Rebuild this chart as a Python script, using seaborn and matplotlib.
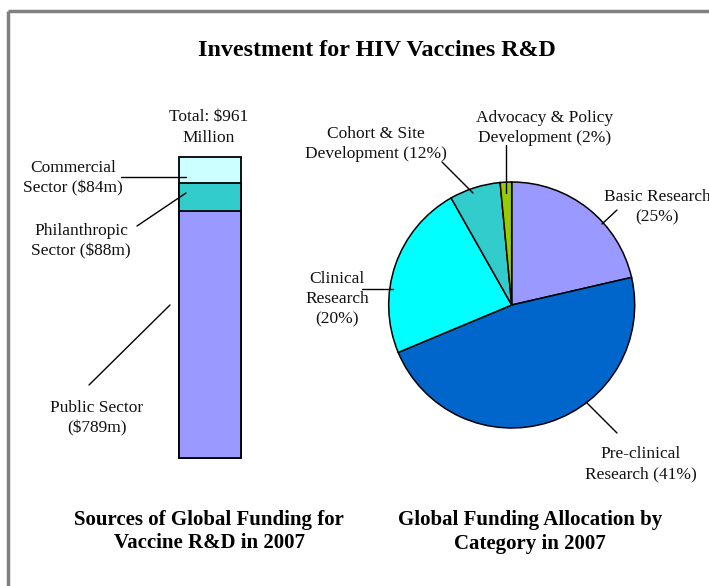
import numpy as np
import pandas as pd
import matplotlib
matplotlib.use("Agg")
import matplotlib.pyplot as plt
import seaborn as sns

# Sources de financement (barre empilée), en millions de $
sectors = ["Public Sector", "Philanthropic Sector", "Commercial Sector"]
sector_funding = [789, 88, 84]
sector_colors = ["#9999FF", "#33CCCC", "#CCFFFF"]

# Répartition par catégorie (camembert) : parts
categories = ["Basic Research", "Pre-clinical Research", "Clinical Research",
              "Cohort & Site Development", "Advocacy & Policy Development"]
category_share = [21.4, 47.3, 23.1, 6.7, 1.5]
category_colors = ["#9999FF", "#0066CC", "#00FFFF", "#33CCCC", "#99CC00"]
category_labels = ["Basic Research\n(25%)", "Pre-clinical\nResearch (41%)",
                   "Clinical\nResearch\n(20%)", "Cohort & Site\nDevelopment (12%)",
                   "Advocacy & Policy\nDevelopment (2%)"]
sector_labels = ["Public Sector\n($789m)", "Philanthropic\nSector ($88m)",
                 "Commercial\nSector ($84m)"]

W, H = 709, 586
sns.set_style("white")
plt.rcParams["font.family"] = ["Liberation Serif", "DejaVu Serif"]
plt.rcParams["text.color"] = "black"

fig = plt.figure(figsize=(W / 100, H / 100), dpi=100)

def px_box(x0, y0, x1, y1):
    # boîte en pixels (origine en haut à gauche) -> coordonnées figure
    return [x0 / W, 1 - y1 / H, (x1 - x0) / W, (y1 - y0) / H]

#  Barre empilée (seaborn, superposition des totaux cumulés)
ax_bar = fig.add_axes(px_box(179, 157, 241, 458))
df = pd.DataFrame({
    "x": [""] * 3,
    "top": np.cumsum(sector_funding)[::-1],
    "sector": sectors[::-1],
})
sns.barplot(data=df, x="x", y="top", hue="sector", hue_order=sectors[::-1],
            palette=dict(zip(sectors, sector_colors)), saturation=1,
            dodge=False, width=1, edgecolor="black", linewidth=1.3,
            legend=False, ax=ax_bar)
ax_bar.set_xlim(-0.5, 0.5)
ax_bar.set_ylim(0, sum(sector_funding))
ax_bar.axis("off")
for p in ax_bar.patches:
    p.set_clip_on(False)

#  Camembert
ax_pie = fig.add_axes(px_box(511.7 - 123, 305 - 123, 511.7 + 123, 305 + 123))
wedges, _ = ax_pie.pie(category_share, colors=category_colors, startangle=90,
                       counterclock=False,
                       wedgeprops=dict(edgecolor="black", linewidth=1.1))
ax_pie.set_xlim(-1, 1)
ax_pie.set_ylim(-1, 1)
for w in wedges:
    w.set_clip_on(False)

#  Calque pour textes, traits de rappel et cadre
ov = fig.add_axes([0, 0, 1, 1], zorder=5)
ov.set_xlim(0, W)
ov.set_ylim(H, 0)
ov.axis("off")
ov.patch.set_alpha(0)

frame_kw = dict(color="#808080", lw=2.5, solid_capstyle="butt")
ov.plot([8, 8], [H + 5, 11], **frame_kw)
ov.plot([8, W + 5], [11, 11], **frame_kw)

ov.text(376.5, 51, "Investment for HIV Vaccines R&D", ha="center", va="center",
        fontsize=17.3, fontweight="bold", color="black")
ov.text(209, 532, "Sources of Global Funding for\nVaccine R&D in 2007",
        ha="center", va="center", fontsize=15, fontweight="bold",
        linespacing=1.2, color="black")
ov.text(530, 532, "Global Funding Allocation by\nCategory in 2007",
        ha="center", va="center", fontsize=15, fontweight="bold",
        linespacing=1.2, color="black")

lab_kw = dict(ha="center", va="center", fontsize=12.5, linespacing=1.35, color="#111111")
ov.text(209, 127.5, "Total: $961\nMillion", **lab_kw)

sector_pos = [(97, 418), (81, 241.5), (73, 178.5)]
for txt, (x, y) in zip(sector_labels, sector_pos):
    ov.text(x, y, txt, **lab_kw)

category_pos = [(657, 207.5), (641, 464), (337, 299), (376, 144), (545, 128)]
for txt, (x, y) in zip(category_labels, category_pos):
    ov.text(x, y, txt, **lab_kw)

# traits de rappel
leaders = [
    ((121, 177), (186, 177)),
    ((137, 226), (186, 193)),
    ((89, 385), (170, 305)),
    ((442, 162), (473, 193)),
    ((506, 145), (506, 193)),
    ((617, 210), (602, 224)),
    ((362, 289), (393, 289)),
    ((586, 402), (617, 433)),
]
for (x0, y0), (x1, y1) in leaders:
    ov.plot([x0, x1], [y0, y1], color="black", lw=1)

plt.savefig("out.png", dpi=100)
plt.close()
